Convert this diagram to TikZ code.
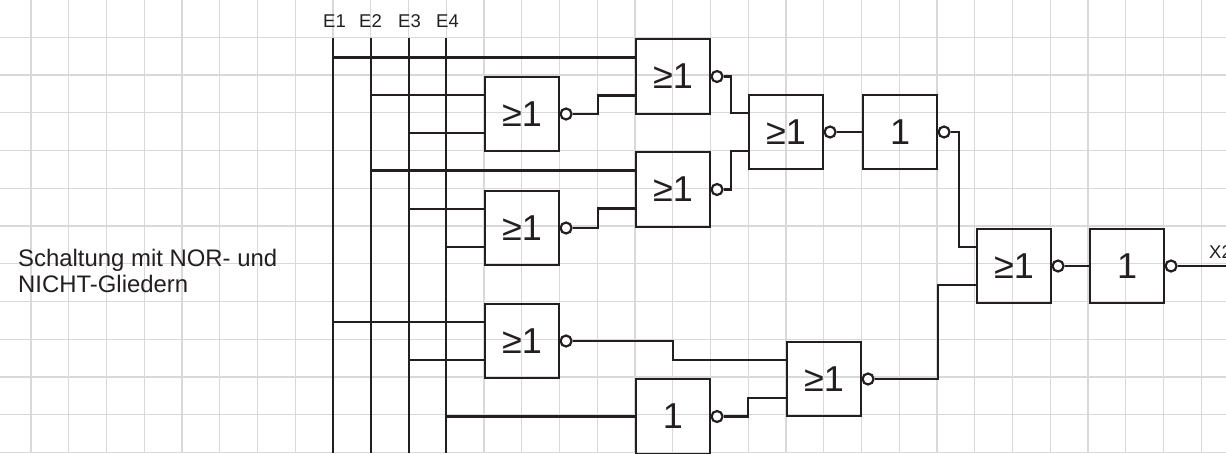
\documentclass[tikz,border=0pt]{standalone}
\usepackage{fontspec}
\setmainfont{Liberation Sans}
\usetikzlibrary{calc}
\definecolor{gridc}{HTML}{D9D9D9}
\definecolor{ink}{HTML}{231F20}
\tikzset{
  gate/.style={draw=ink,line width=2.2pt,fill=none,minimum width=74.5pt,minimum height=74.5pt,inner sep=0pt,text=ink,font=\fontsize{36}{36}\selectfont},
  bubble/.style={circle,draw=ink,line width=2.2pt,fill=white,minimum size=11pt,inner sep=0pt},
  wire/.style={draw=ink,line width=2.2pt,line join=miter},
  gridline/.style={draw=gridc,line width=1.3pt},
  lab/.style={text=ink,inner sep=0pt,font=\fontsize{18.5}{19}\selectfont},
  captext/.style={text=ink,inner sep=0pt,align=left,anchor=north west,font=\fontsize{23.9}{26}\selectfont}
}
\begin{document}
\begin{tikzpicture}[x=1pt,y=-1pt]
\useasboundingbox (0,0) rectangle (1226,453);
\clip (0,0) rectangle (1226,453);
\foreach \k in {0,...,31} {\draw[gridline] ({31+37.75*\k},0) -- ({31+37.75*\k},453);}
\foreach \k in {0,...,11} {\draw[gridline] (0,{37.3+37.75*\k}) -- (1226,{37.3+37.75*\k});}

% buses
\coordinate (E1t) at (333,38); \coordinate (E1b) at (333,453);
\coordinate (E2t) at (371,38); \coordinate (E2b) at (371,453);
\coordinate (E3t) at (409,38); \coordinate (E3b) at (409,453);
\coordinate (E4t) at (446,38); \coordinate (E4b) at (446,453);
\foreach \n in {1,2,3,4} {\draw[wire] (E\n t) -- (E\n b);}
\node[lab] (lE1) at (334.5,21.5) {E1};
\node[lab] (lE2) at (370.5,21.5) {E2};
\node[lab] (lE3) at (409.5,21.5) {E3};
\node[lab] (lE4) at (447.5,21.5) {E4};

% gates
\node[gate] (a1) at (522,114) {≥1};
\node[gate] (a2) at (522,228) {≥1};
\node[gate] (a3) at (522,341) {≥1};
\node[gate] (b1) at (673,76.5) {≥1};
\node[gate] (b2) at (673,189.5) {≥1};
\node[gate] (n0) at (673,416.5) {1};
\node[gate] (c1) at (786,132) {≥1};
\node[gate] (n1) at (900,132) {1};
\node[gate] (c3) at (824,379) {≥1};
\node[gate] (d1) at (1014,266) {≥1};
\node[gate] (n2) at (1127,266) {1};

\foreach \g in {a1,a2,a3,b1,b2,n0,c1,n1,c3,d1,n2}
  {\node[bubble] (o\g) at ([xshift=5.7pt]\g.east) {};}

% inputs (upper = +19 above centre, lower = 19 below)
\foreach \g in {a1,a2,a3,b1,b2,c1,c3,d1} {
  \coordinate (\g u) at ([yshift=19pt]\g.west);
  \coordinate (\g l) at ([yshift=-19pt]\g.west);
}
\draw[wire] (E1t |- b1u) -- (b1u);
\draw[wire] (E2t |- a1u) -- (a1u);
\draw[wire] (E3t |- a1l) -- (a1l);
\draw[wire] (E2t |- b2u) -- (b2u);
\draw[wire] (E3t |- a2u) -- (a2u);
\draw[wire] (E4t |- a2l) -- (a2l);
\draw[wire] (E1t |- a3u) -- (a3u);
\draw[wire] (E3t |- a3l) -- (a3l);
\draw[wire] (E4t |- n0.west) -- (n0.west);

\draw[wire] (oa1.east) -| (598,95.5) -- (b1l);
\draw[wire] (oa2.east) -| (598,208.5) -- (b2l);
\draw[wire] (oa3.east) -| (673,360) -- (c3u);
\draw[wire] (on0.east) -| (748,398) -- (c3l);
\draw[wire] (ob1.east) -| (731,113) -- (c1u);
\draw[wire] (ob2.east) -| (731,151) -- (c1l);
\draw[wire] (oc1.east) -- (n1.west);
\draw[wire] (on1.east) -| (959,247) -- (d1u);
\draw[wire] (oc3.east) -| (938,285) -- (d1l);
\draw[wire] (od1.east) -- (n2.west);
\coordinate (xout) at (1226,266);
\draw[wire] (on2.east) -- (xout);

\node[lab,anchor=west] (x2) at (1209,252) {X2};
\node[captext] (t) at (18,248.5) {Schaltung mit NOR- und\\NICHT-Gliedern};
\end{tikzpicture}
\end{document}
